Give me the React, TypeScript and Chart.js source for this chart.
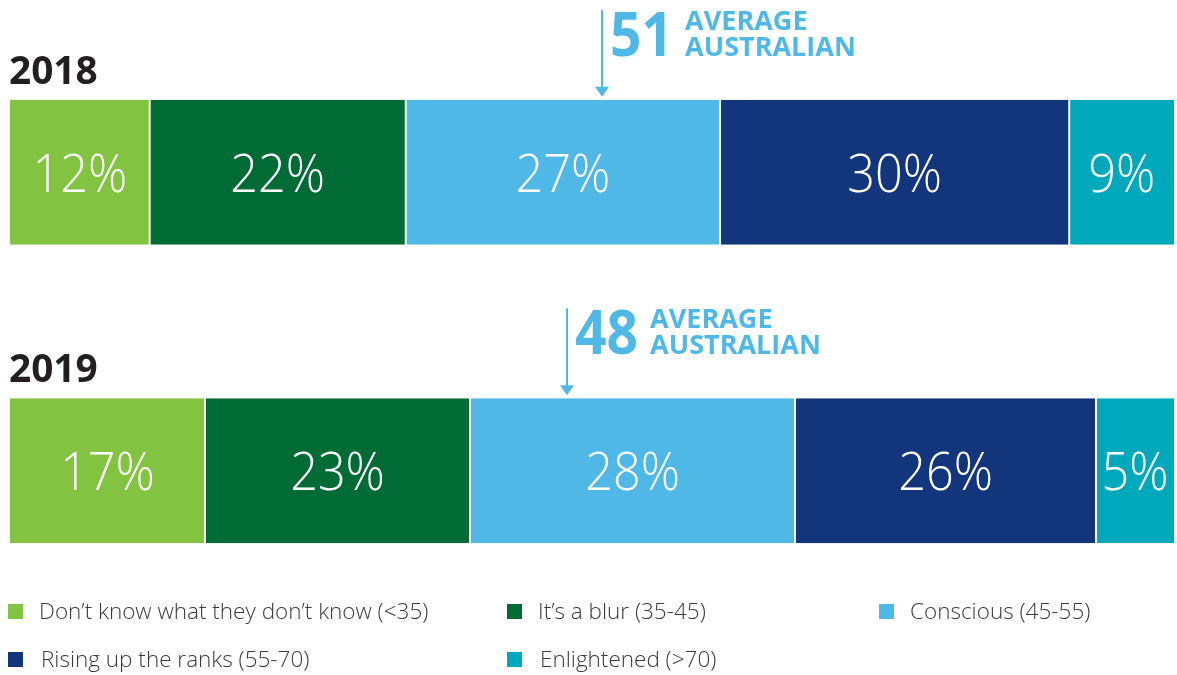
import { useEffect, useRef } from "react";
import { Chart, registerables } from "chart.js";

Chart.register(...registerables);

const years = ["2018", "2019"];
const categories = [
  "Don’t know what they don’t know (<35)",
  "It’s a blur (35-45)",
  "Conscious (45-55)",
  "Rising up the ranks (55-70)",
  "Enlightened (>70)",
];
const colors = ["#82c341", "#006b35", "#50b8e7", "#13357c", "#00a8bb"];
// displayed percentages
const pct2018 = [12, 22, 27, 30, 9];
const pct2019 = [17, 23, 28, 26, 5];
// segment shares as drawn in the picture
const share2018 = [12, 22, 27, 30, 9];
const share2019 = [16.75, 22.77, 27.92, 25.86, 6.7];
const averageScores = [51, 48];
const averageLabel = ["AVERAGE", "AUSTRALIAN"];

const FONT = "'Open Sans', 'DejaVu Sans', sans-serif";
const BLUE = "#50b8e7";

function drawText(
  ctx: CanvasRenderingContext2D,
  text: string,
  x: number,
  y: number,
  font: string,
  color: string,
  align: CanvasTextAlign,
  baseline: CanvasTextBaseline,
  sx = 1
) {
  ctx.save();
  ctx.font = font;
  ctx.fillStyle = color;
  ctx.textAlign = align;
  ctx.textBaseline = baseline;
  ctx.translate(x, y);
  ctx.scale(sx, 1);
  ctx.fillText(text, 0, 0);
  ctx.restore();
}

const overlayPlugin = {
  id: "overlay",
  afterDatasetsDraw(chart: any) {
    const ctx: CanvasRenderingContext2D = chart.ctx;
    const xScale = chart.scales.x;
    const pctRows = [pct2018, pct2019];
    // percentage labels
    chart.data.datasets.forEach((ds: any, di: number) => {
      const meta = chart.getDatasetMeta(di);
      meta.data.forEach((el: any, i: number) => {
        const cx = (el.x + el.base) / 2;
        drawText(ctx, pctRows[i][di] + "%", cx, el.y + 4, `300 54px ${FONT}`, "#ffffff", "center", "middle", 0.9);
      });
    });
    // year labels + average annotations
    const meta0 = chart.getDatasetMeta(0);
    meta0.data.forEach((el: any, i: number) => {
      const top = el.y - el.height / 2;
      drawText(ctx, years[i], 9, top - 16, `700 40px ${FONT}`, "#231f20", "left", "alphabetic", 0.97);
      const ax = Math.round(xScale.getPixelForValue(averageScores[i])) - 2;
      ctx.save();
      ctx.strokeStyle = BLUE;
      ctx.fillStyle = BLUE;
      ctx.lineWidth = 2;
      ctx.beginPath();
      ctx.moveTo(ax, top - 90);
      ctx.lineTo(ax, top - 12);
      ctx.stroke();
      ctx.beginPath();
      ctx.moveTo(ax - 7, top - 13);
      ctx.lineTo(ax + 7, top - 13);
      ctx.lineTo(ax, top - 3);
      ctx.closePath();
      ctx.fill();
      ctx.restore();
      const numX = ax + 8;
      const numFont = `700 60px ${FONT}`;
      const sx = 0.92;
      drawText(ctx, String(averageScores[i]), numX, top - 44, numFont, BLUE, "left", "alphabetic", sx);
      ctx.save();
      ctx.font = numFont;
      const w = ctx.measureText(String(averageScores[i])).width * sx;
      ctx.restore();
      const lx = numX + w + 12;
      drawText(ctx, averageLabel[0], lx, top - 70, `700 27px ${FONT}`, BLUE, "left", "alphabetic", 1);
      drawText(ctx, averageLabel[1], lx, top - 44, `700 27px ${FONT}`, BLUE, "left", "alphabetic", 1);
    });
    // legend
    const cols = [8, 507, 879];
    const rows = [612, 660];
    categories.forEach((c, i) => {
      const col = i % 3;
      const row = Math.floor(i / 3);
      const bx = cols[col];
      const by = rows[row];
      ctx.fillStyle = colors[i];
      ctx.fillRect(bx, by - 8, 15, 15);
      drawText(ctx, c, bx + 31 + row * 2, by + 1, `300 22.5px ${FONT}`, "#3a3a3a", "left", "middle", 1);
    });
  },
};

export default function App() {
  const ref = useRef<HTMLCanvasElement | null>(null);
  useEffect(() => {
    const canvas = ref.current!;
    const chart = new Chart(canvas, {
      type: "bar",
      data: {
        labels: years,
        datasets: categories.map((c, i) => ({
          label: c,
          data: [share2018[i], share2019[i]],
          backgroundColor: colors[i],
          borderColor: "#ffffff",
          borderWidth: { left: i === 0 ? 0 : 1, right: i === 4 ? 0 : 1, top: 0, bottom: 0 },
          borderSkipped: false,
          inflateAmount: 0,
          barPercentage: 145 / 298.5,
          categoryPercentage: 1,
        })),
      },
      options: {
        indexAxis: "y",
        responsive: false,
        animation: false,
        devicePixelRatio: 1,
        layout: { padding: { left: 10, right: 3, top: 23, bottom: 55 } },
        scales: {
          x: { stacked: true, min: 0, max: 100, display: false },
          y: { stacked: true, display: false },
        },
        plugins: { legend: { display: false }, tooltip: { enabled: false } },
      },
      plugins: [overlayPlugin],
    } as any);
    return () => chart.destroy();
  }, []);
  return (
    <div style={{ position: "fixed", left: 0, top: 0, width: 1177, height: 675, background: "#fff" }}>
      <canvas ref={ref} width={1177} height={675} style={{ width: 1177, height: 675, display: "block" }} />
    </div>
  );
}
